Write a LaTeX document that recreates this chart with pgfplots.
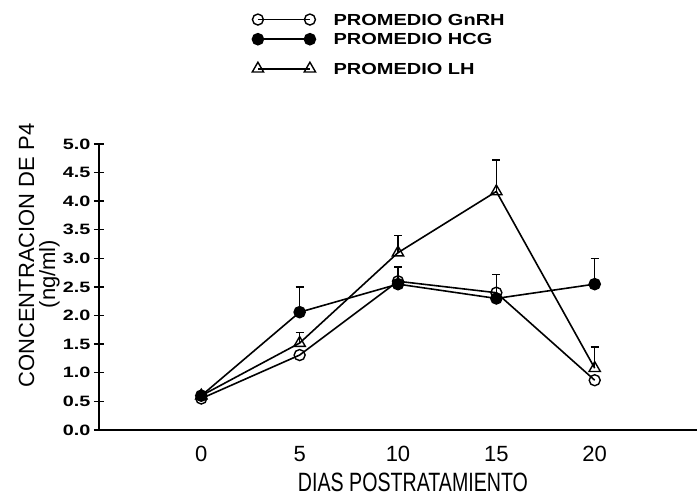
\documentclass[border=0pt]{standalone}
\usepackage{fontspec}
\setmainfont{Liberation Sans}
\usepackage{graphicx}
\usepackage{pgfplots}
\pgfplotsset{compat=1.18}
\pgfplotstableread{
x y e
10 2.60 0.25
15 2.40 0.32
}\errGnRH
\pgfplotstableread{
x y e
5 2.06 0.44
20 2.55 0.45
}\errHCG
\pgfplotstableread{
x y e
5 1.52 0.18
10 3.10 0.30
15 4.17 0.55
20 1.08 0.37
}\errLH
\newcommand{\lgfont}{\fontsize{16}{18}\selectfont\bfseries}
\newcommand{\lgent}[1]{\lgfont\hspace*{16pt}\scalebox{1.25}[1]{#1}}
\begin{document}
\begin{tikzpicture}
\useasboundingbox (0,0) rectangle (697pt,497pt);
\begin{axis}[
  at={(99pt,67pt)}, anchor=south west,
  scale only axis, width=598pt, height=286pt,
  xmin=-5.2, xmax=25.2, ymin=0, ymax=5,
  clip=false,
  axis x line=bottom, axis y line=left,
  axis line style={-, line width=1.6pt},
  xtick={0,5,10,15,20},
  ytick={0,0.5,1,1.5,2,2.5,3,3.5,4,4.5,5},
  major x tick style={draw=none},
  major y tick style={line width=1.4pt, black},
  major tick length=10pt, tick align=center,
  /pgf/number format/assume math mode=true,
  yticklabel={\scalebox{1.32}[1]{\pgfmathprintnumber[fixed,fixed zerofill,precision=1]{\tick}}},
  yticklabel style={font=\fontsize{15}{18}\selectfont\bfseries},
  xticklabel style={font=\fontsize{22}{26}\selectfont, anchor=center, yshift=-19pt},
  xlabel={\scalebox{0.74}[1]{DIAS POSTRATAMIENTO}},
  xlabel style={font=\fontsize{26.5}{30}\selectfont, at={(axis description cs:0.525,-0.1836)}, anchor=center},
  ylabel={CONCENTRACION DE P4\\(ng/ml)\hspace*{37pt}},
  ylabel style={font=\fontsize{22}{21}\selectfont, align=center, at={(axis description cs:-0.1,0.61)}, anchor=center},
  legend style={at={(axis description cs:0.256,1.462)}, anchor=north west, draw=none, fill=none,
    font=\lgfont, row sep=3pt, inner sep=0pt},
  legend cell align=left,
  legend style={nodes={anchor=base west}},
  legend image code/.code={\draw[#1] plot coordinates {(0pt,5.7pt) (52pt,5.7pt)};},
  every axis plot/.append style={black, line width=1.6pt},
]
% error bars (upward only)
\addplot[draw=none, forget plot, error bars/.cd, y dir=plus, y explicit,
  error bar style={draw=black, line width=1.3pt},
  error mark options={draw=black, rotate=90, mark size=4pt, line width=1.3pt}]
  table[x=x, y=y, y error=e] {\errGnRH};
\addplot[draw=none, forget plot, error bars/.cd, y dir=plus, y explicit,
  error bar style={draw=black, line width=1.3pt},
  error mark options={draw=black, rotate=90, mark size=4pt, line width=1.3pt}]
  table[x=x, y=y, y error=e] {\errHCG};
\addplot[draw=none, forget plot, error bars/.cd, y dir=plus, y explicit,
  error bar style={draw=black, line width=1.3pt},
  error mark options={draw=black, rotate=90, mark size=4pt, line width=1.3pt}]
  table[x=x, y=y, y error=e] {\errLH};
% series
\addplot[mark=o, mark size=5.5pt, mark options={fill=white, line width=1.4pt, solid}]
  coordinates {(0,0.55) (5,1.31) (10,2.60) (15,2.40) (20,0.87)};
\addlegendentry{\lgent{PROMEDIO GnRH}}
\addplot[mark=*, mark size=5.5pt, mark options={fill=black, solid}]
  coordinates {(0,0.60) (5,2.06) (10,2.55) (15,2.30) (20,2.55)};
\addlegendentry{\lgent{PROMEDIO HCG}}
\addplot[mark=triangle, mark size=6.5pt, mark options={fill=white, line width=1.4pt, solid}]
  coordinates {(0,0.60) (5,1.52) (10,3.10) (15,4.17) (20,1.08)};
\addlegendentry{\lgent{\rule{0pt}{21pt}PROMEDIO LH}}
\end{axis}
\end{tikzpicture}
\end{document}
